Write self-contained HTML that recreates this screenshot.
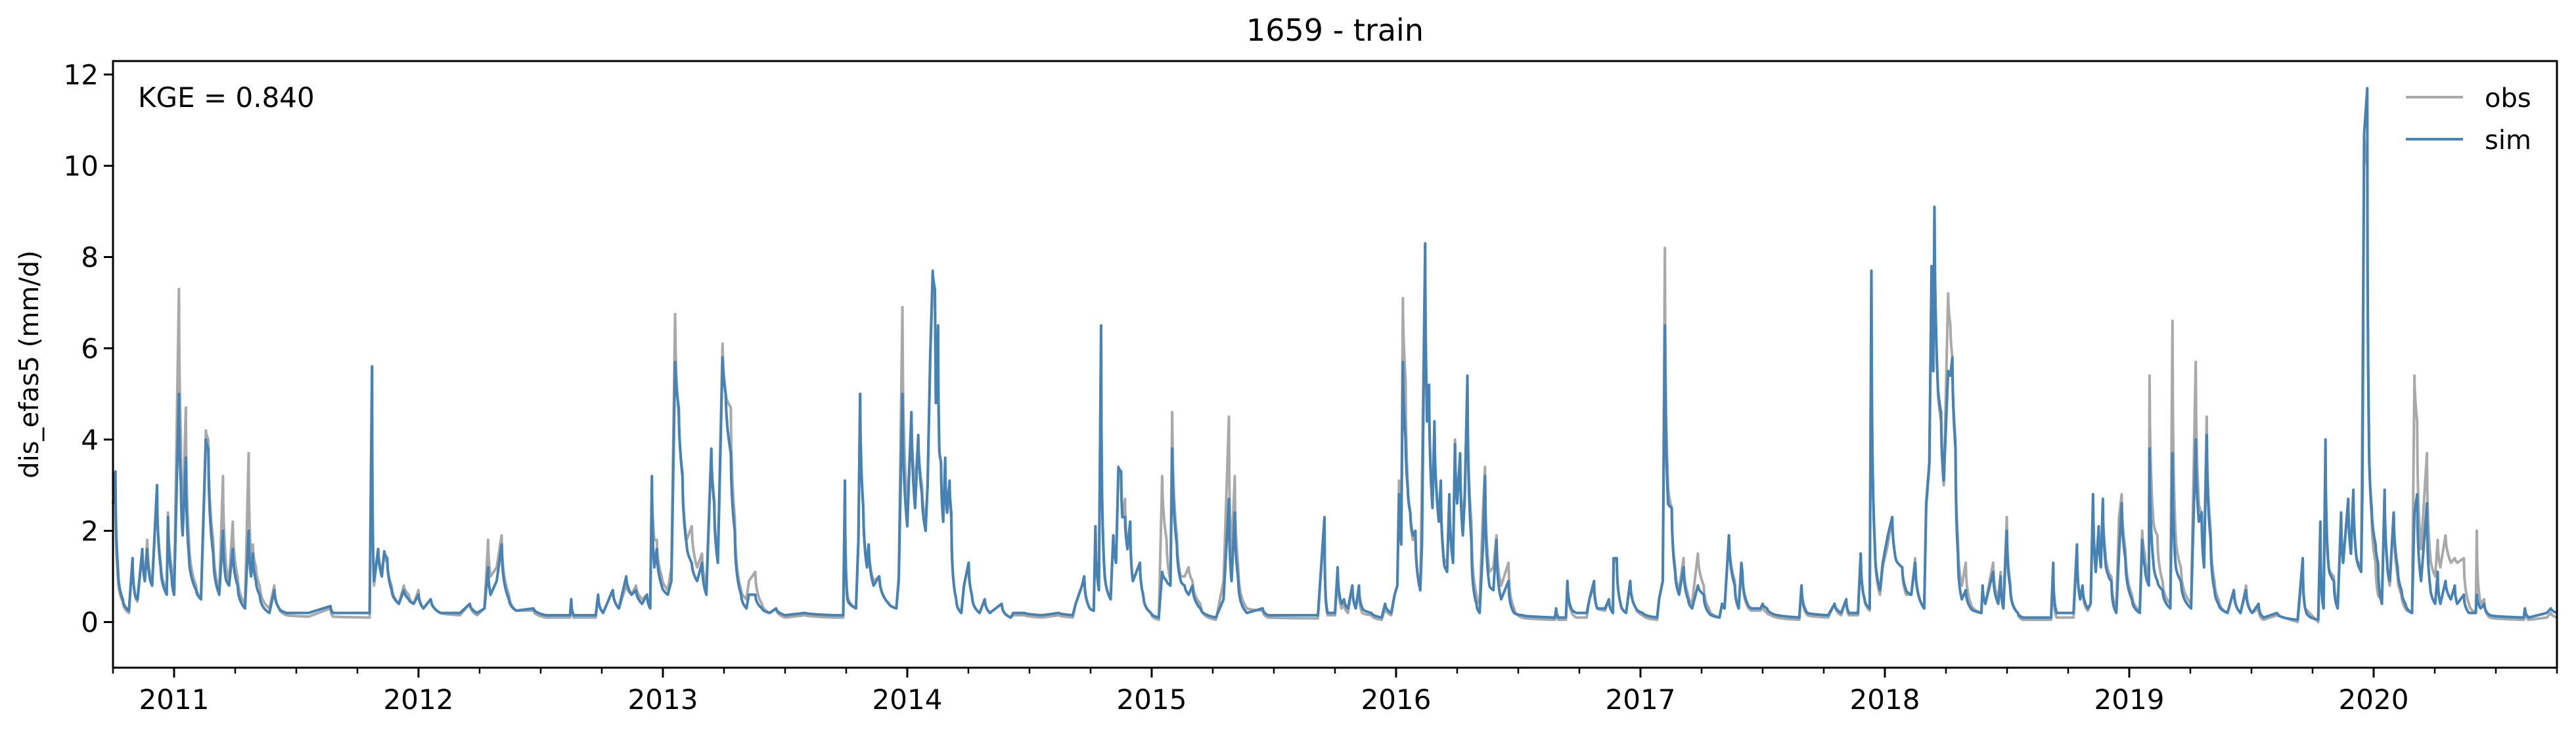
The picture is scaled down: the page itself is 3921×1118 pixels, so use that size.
<!DOCTYPE html>
<html><head><meta charset="utf-8"><style>
html,body{margin:0;padding:0;background:#fff;}
svg{display:block;font-family:"DejaVu Sans","Liberation Sans",sans-serif;}
</style></head><body>
<svg id="chart" width="3921" height="1118" viewBox="0 0 3921 1118" xmlns="http://www.w3.org/2000/svg">
<rect width="3921" height="1118" fill="#fff"/>
<text x="2032" y="62" font-size="46" text-anchor="middle">1659 - train</text>
<text transform="translate(58,555) rotate(-90)" font-size="40" text-anchor="middle">dis_efas5 (mm/d)</text>
<g id="xticks"></g>
<g id="yticks"></g>
<g id="series"></g>
<rect x="172" y="93" width="3720" height="924" fill="none" stroke="#000" stroke-width="3"/>
<text x="210" y="163" font-size="42">KGE = 0.840</text>
<g>
<line x1="3662" y1="148" x2="3749" y2="148" stroke="#a9a9a9" stroke-width="4"/>
<text x="3782" y="163" font-size="40">obs</text>
<line x1="3662" y1="212" x2="3749" y2="212" stroke="#4682b4" stroke-width="4"/>
<text x="3782" y="227" font-size="40">sim</text>
</g>
</svg>
<script>
const times = [2010.750,2010.760,2010.770,2010.790,2010.815,2010.830,2010.840,2010.850,2010.870,2010.880,2010.890,2010.900,2010.910,2010.930,2010.945,2010.970,2010.975,2010.990,2011.000,2011.020,2011.028,2011.035,2011.048,2011.060,2011.090,2011.110,2011.130,2011.140,2011.160,2011.185,2011.200,2011.210,2011.225,2011.240,2011.260,2011.290,2011.305,2011.315,2011.322,2011.335,2011.350,2011.390,2011.410,2011.430,2011.460,2011.550,2011.640,2011.650,2011.800,2011.810,2011.818,2011.835,2011.850,2011.860,2011.872,2011.890,2011.920,2011.940,2011.960,2011.980,2012.000,2012.020,2012.050,2012.090,2012.170,2012.210,2012.240,2012.270,2012.285,2012.295,2012.320,2012.340,2012.370,2012.400,2012.470,2012.520,2012.620,2012.625,2012.635,2012.725,2012.735,2012.755,2012.795,2012.820,2012.850,2012.872,2012.890,2012.915,2012.935,2012.948,2012.955,2012.965,2012.975,2012.995,2013.020,2013.035,2013.050,2013.065,2013.080,2013.097,2013.118,2013.140,2013.160,2013.178,2013.198,2013.210,2013.225,2013.244,2013.257,2013.278,2013.294,2013.320,2013.342,2013.352,2013.378,2013.405,2013.437,2013.463,2013.500,2013.580,2013.700,2013.738,2013.745,2013.755,2013.790,2013.800,2013.807,2013.820,2013.835,2013.842,2013.862,2013.885,2013.925,2013.955,2013.965,2013.980,2014.000,2014.017,2014.032,2014.045,2014.060,2014.075,2014.083,2014.094,2014.104,2014.113,2014.117,2014.126,2014.131,2014.138,2014.147,2014.155,2014.163,2014.173,2014.180,2014.200,2014.221,2014.232,2014.251,2014.264,2014.296,2014.317,2014.338,2014.386,2014.423,2014.434,2014.480,2014.550,2014.620,2014.677,2014.689,2014.715,2014.724,2014.747,2014.763,2014.770,2014.784,2014.793,2014.806,2014.832,2014.843,2014.854,2014.864,2014.875,2014.880,2014.891,2014.901,2014.912,2014.923,2014.952,2014.965,2014.997,2015.029,2015.043,2015.061,2015.077,2015.084,2015.103,2015.119,2015.135,2015.151,2015.167,2015.199,2015.263,2015.294,2015.316,2015.327,2015.340,2015.353,2015.390,2015.454,2015.475,2015.680,2015.707,2015.720,2015.750,2015.761,2015.777,2015.787,2015.803,2015.821,2015.835,2015.848,2015.862,2015.899,2015.941,2015.955,2015.980,2015.994,2016.005,2016.012,2016.021,2016.028,2016.039,2016.048,2016.058,2016.069,2016.079,2016.099,2016.106,2016.119,2016.127,2016.135,2016.149,2016.157,2016.175,2016.183,2016.196,2016.209,2016.218,2016.233,2016.241,2016.250,2016.262,2016.273,2016.281,2016.292,2016.308,2016.329,2016.342,2016.356,2016.364,2016.382,2016.398,2016.411,2016.430,2016.460,2016.483,2016.515,2016.650,2016.655,2016.665,2016.695,2016.701,2016.717,2016.738,2016.780,2016.791,2016.810,2016.823,2016.855,2016.871,2016.887,2016.890,2016.903,2016.919,2016.941,2016.958,2016.982,2017.009,2017.068,2017.076,2017.091,2017.100,2017.113,2017.128,2017.142,2017.158,2017.176,2017.195,2017.211,2017.235,2017.259,2017.280,2017.323,2017.334,2017.344,2017.362,2017.386,2017.402,2017.413,2017.417,2017.438,2017.454,2017.491,2017.500,2017.518,2017.534,2017.650,2017.659,2017.683,2017.768,2017.794,2017.821,2017.842,2017.853,2017.890,2017.901,2017.917,2017.938,2017.945,2017.959,2017.980,2017.991,2018.012,2018.030,2018.044,2018.071,2018.087,2018.108,2018.124,2018.161,2018.169,2018.182,2018.191,2018.198,2018.203,2018.216,2018.230,2018.241,2018.259,2018.268,2018.276,2018.289,2018.299,2018.315,2018.331,2018.352,2018.395,2018.400,2018.411,2018.443,2018.464,2018.474,2018.485,2018.499,2018.512,2018.544,2018.565,2018.680,2018.689,2018.703,2018.772,2018.786,2018.799,2018.809,2018.830,2018.842,2018.852,2018.863,2018.875,2018.884,2018.892,2018.903,2018.916,2018.927,2018.947,2018.958,2018.969,2018.984,2019.011,2019.043,2019.053,2019.064,2019.080,2019.083,2019.099,2019.115,2019.136,2019.168,2019.177,2019.189,2019.211,2019.253,2019.272,2019.285,2019.296,2019.306,2019.317,2019.333,2019.349,2019.365,2019.402,2019.428,2019.455,2019.478,2019.503,2019.529,2019.550,2019.604,2019.689,2019.710,2019.720,2019.773,2019.782,2019.795,2019.803,2019.816,2019.837,2019.853,2019.867,2019.875,2019.896,2019.907,2019.917,2019.928,2019.949,2019.954,2019.961,2019.974,2019.981,2019.992,2020.008,2020.018,2020.034,2020.045,2020.055,2020.066,2020.082,2020.098,2020.114,2020.130,2020.157,2020.167,2020.178,2020.194,2020.218,2020.231,2020.252,2020.262,2020.273,2020.294,2020.316,2020.332,2020.342,2020.369,2020.390,2020.418,2020.422,2020.438,2020.452,2020.475,2020.614,2020.619,2020.635,2020.709,2020.725,2020.750];
const simValues = [2.6,3.3,1.2,0.5,0.25,1.4,0.6,0.5,1.6,0.9,1.6,1.0,0.8,3.0,1.2,0.6,2.3,1.0,0.6,5.0,3.0,1.9,3.6,1.5,0.7,0.5,4.0,3.8,1.5,0.6,2.0,1.0,0.8,1.6,0.8,0.3,2.0,1.0,1.5,0.9,0.6,0.2,0.7,0.3,0.2,0.2,0.35,0.2,0.2,5.6,0.9,1.6,1.0,1.55,1.4,0.7,0.4,0.7,0.5,0.4,0.6,0.3,0.5,0.2,0.2,0.4,0.2,0.3,1.2,0.6,0.9,1.7,0.5,0.25,0.3,0.15,0.15,0.5,0.15,0.15,0.6,0.2,0.7,0.3,1.0,0.6,0.7,0.4,0.6,0.3,3.2,1.2,1.6,0.8,0.6,0.9,5.7,4.7,3.2,1.7,1.3,0.9,1.3,0.6,3.8,2.6,1.3,5.8,5.0,3.7,2.0,0.6,0.3,0.6,0.6,0.3,0.2,0.3,0.15,0.2,0.15,0.15,3.1,0.5,0.3,1.8,5.0,2.5,1.2,1.7,0.8,1.0,0.4,0.3,0.9,5.0,2.1,4.6,2.5,4.1,2.8,2.0,3.0,5.9,7.7,7.3,4.8,6.5,3.8,3.5,2.2,3.6,2.4,3.1,2.4,0.5,0.2,0.8,1.3,0.6,0.2,0.5,0.2,0.4,0.1,0.2,0.2,0.15,0.2,0.15,0.4,0.8,1.0,0.3,0.25,2.1,0.7,6.5,1.2,0.5,1.9,1.3,3.4,3.3,2.3,2.3,1.6,2.2,0.9,1.3,0.6,0.2,0.1,1.1,0.9,0.8,3.8,1.7,0.9,0.8,0.6,0.8,0.3,0.1,0.5,2.7,0.9,2.4,1.0,0.2,0.3,0.15,0.15,2.3,0.2,0.2,1.2,0.4,0.5,0.3,0.8,0.3,0.8,0.3,0.2,0.1,0.4,0.2,0.6,0.8,2.8,1.7,5.7,4.0,2.9,2.4,1.9,2.0,0.7,1.7,8.3,4.4,5.2,2.5,4.4,2.2,3.1,1.3,1.1,2.8,1.3,3.9,2.6,3.7,1.9,2.7,5.4,1.8,0.4,0.2,1.7,3.2,0.8,0.7,1.8,0.5,0.9,0.2,0.15,0.1,0.3,0.1,0.1,0.9,0.3,0.2,0.2,0.5,0.9,0.3,0.3,0.5,0.2,1.4,1.4,0.4,0.2,0.9,0.3,0.2,0.1,0.5,0.9,6.5,2.6,2.5,1.1,0.6,1.2,0.5,0.3,0.8,0.6,0.2,0.1,0.4,0.3,1.9,0.8,0.3,1.3,1.1,0.4,0.3,0.3,0.4,0.3,0.2,0.1,0.8,0.2,0.15,0.4,0.2,0.5,0.2,0.2,1.5,0.5,0.3,7.7,1.7,0.7,1.3,1.9,2.3,1.4,1.2,0.7,0.6,1.3,0.3,2.6,3.5,7.8,5.5,9.1,5.3,4.6,3.1,5.5,5.4,5.8,3.8,1.5,0.5,0.7,0.3,0.2,0.8,0.4,1.1,0.4,1.0,0.3,2.0,0.8,0.2,0.1,0.1,1.3,0.2,0.2,1.7,0.5,0.8,0.3,0.4,2.8,1.1,2.1,1.2,2.7,1.3,1.0,0.9,0.2,1.5,2.6,1.4,0.5,0.2,1.8,1.2,0.8,3.8,1.3,0.9,0.7,0.3,3.7,1.3,0.9,0.3,4.0,2.2,2.4,1.2,4.1,1.8,0.7,0.4,0.2,0.7,0.2,0.7,0.2,0.4,0.1,0.2,0.05,1.4,0.3,0.05,2.2,0.3,4.0,1.2,0.9,0.3,2.4,1.3,2.7,1.5,2.9,1.5,1.1,2.9,10.7,11.7,3.9,2.5,1.7,1.3,0.4,2.9,1.3,0.9,2.4,1.2,0.7,0.4,0.2,2.4,2.8,0.9,2.6,0.8,0.4,1.1,0.4,0.9,0.5,0.8,0.4,0.6,0.2,0.2,0.6,0.3,0.4,0.15,0.1,0.3,0.1,0.2,0.3,0.2];
const obsValues = [2.6,2.8,1.0,0.45,0.2,1.4,0.6,0.45,1.5,1.0,1.8,1.1,0.8,2.9,1.3,0.7,2.4,1.2,0.6,7.3,4.0,2.2,4.7,1.9,0.8,0.5,4.2,4.0,1.8,0.7,3.2,1.5,0.9,2.2,1.0,0.4,3.7,1.4,1.7,1.2,0.8,0.3,0.8,0.3,0.15,0.12,0.3,0.12,0.1,5.6,0.8,1.6,1.1,1.5,1.3,0.8,0.4,0.8,0.6,0.4,0.7,0.3,0.5,0.2,0.15,0.4,0.15,0.3,1.8,1.0,1.2,1.9,0.6,0.25,0.25,0.1,0.1,0.45,0.1,0.1,0.55,0.2,0.7,0.3,0.8,0.6,0.8,0.5,0.6,0.4,3.1,1.8,1.8,1.0,0.7,1.2,6.75,4.5,3.3,1.8,2.1,1.2,1.5,0.8,3.8,2.7,1.4,6.1,5.0,4.7,2.3,0.7,0.5,0.9,1.1,0.4,0.2,0.3,0.1,0.15,0.1,0.1,3.1,0.6,0.3,1.8,5.0,2.5,1.3,1.7,0.9,1.0,0.4,0.3,1.0,6.9,2.5,4.5,3.0,4.0,3.0,2.2,3.0,5.8,7.5,7.2,4.8,6.4,3.8,3.5,2.2,3.5,2.4,3.0,2.3,0.5,0.2,0.8,1.3,0.6,0.2,0.5,0.2,0.4,0.1,0.15,0.15,0.1,0.15,0.1,0.4,0.8,1.0,0.3,0.25,2.1,0.7,6.5,1.2,0.5,1.9,1.3,3.3,3.3,2.3,2.7,1.6,2.2,0.9,1.3,0.6,0.2,0.05,3.2,1.8,0.9,4.6,1.9,1.0,1.0,1.2,0.9,0.4,0.05,0.9,4.5,1.5,3.2,1.3,0.3,0.25,0.1,0.08,2.2,0.15,0.15,1.1,0.3,0.4,0.2,0.8,0.3,0.7,0.2,0.15,0.05,0.3,0.15,0.6,0.8,3.1,1.8,7.1,5.3,3.0,2.4,1.8,2.0,0.7,3.1,8.3,4.4,5.2,2.6,4.3,2.3,3.0,1.4,1.3,2.7,1.4,4.0,2.7,3.6,2.2,2.8,5.2,2.2,0.6,0.4,2.5,3.4,1.1,1.2,1.9,0.8,1.3,0.3,0.1,0.05,0.25,0.05,0.05,0.8,0.25,0.1,0.1,0.5,0.8,0.3,0.25,0.5,0.2,1.3,1.4,0.4,0.2,0.9,0.3,0.15,0.05,0.5,0.9,8.2,3.0,2.5,1.2,0.7,1.4,0.6,0.4,1.5,0.8,0.3,0.1,0.4,0.3,1.9,0.9,0.3,1.2,1.0,0.35,0.25,0.25,0.35,0.2,0.15,0.05,0.8,0.15,0.1,0.4,0.15,0.5,0.15,0.15,1.5,0.5,0.25,7.7,1.7,0.6,1.2,1.7,2.3,1.4,1.2,0.6,0.6,1.4,0.3,2.5,3.4,7.8,5.5,9.1,5.2,4.4,3.0,7.2,6.5,5.8,4.0,1.8,0.8,1.3,0.4,0.2,0.8,0.4,1.3,0.5,1.1,0.35,2.3,0.9,0.2,0.05,0.05,1.2,0.1,0.1,1.6,0.5,0.7,0.25,0.4,2.8,1.2,2.0,1.3,2.6,1.5,1.1,1.0,0.3,2.3,2.8,1.6,0.6,0.25,2.0,1.5,1.0,5.4,2.2,1.9,0.9,0.4,6.6,2.0,1.2,0.4,5.7,2.6,2.4,1.4,4.5,2.0,0.9,0.5,0.2,0.7,0.2,0.8,0.2,0.3,0.05,0.15,0.0,1.2,0.3,0.0,2.0,0.3,3.0,1.2,1.0,0.4,2.2,1.3,2.6,1.5,2.8,1.5,1.2,4.9,10.7,10.0,4.2,2.3,1.3,0.6,0.5,2.8,1.4,0.8,2.4,1.0,0.6,0.3,0.2,5.4,4.4,1.6,3.7,1.5,1.0,1.8,1.2,1.9,1.3,1.4,1.3,1.4,0.4,0.2,2.0,0.4,0.5,0.1,0.05,0.25,0.05,0.1,0.2,0.1];
const yTickValues = [0,2,4,6,8,10,12];
const yTickLabels = ["0","2","4","6","8","10","12"];
const xYearTicks = [2011,2012,2013,2014,2015,2016,2017,2018,2019,2020];
const xYearLabels = ["2011","2012","2013","2014","2015","2016","2017","2018","2019","2020"];

const NS = "http://www.w3.org/2000/svg";
const L = 172, R = 3892, T = 93, B = 1017;
const tMin = 2010.75, tMax = 2020.75, vMin = -1.0, vMax = 12.295;
function xs(t){ return L + (t - tMin) / (tMax - tMin) * (R - L); }
function ys(v){ return B - (v - vMin) / (vMax - vMin) * (B - T); }
function mk(tag, attrs){ const e = document.createElementNS(NS, tag); for (const k in attrs) e.setAttribute(k, attrs[k]); return e; }

const yg = document.getElementById('yticks');
yTickValues.forEach((v, i) => {
  const tk = mk('line', {x1: L - 14, x2: L, y1: ys(v), y2: ys(v), stroke: '#000', 'stroke-width': 3});
  
  
  yg.appendChild(tk);
  const tx = mk('text', {x: L - 22, y: ys(v) + 15, 'font-size': 42, 'text-anchor': 'end'});
  tx.textContent = yTickLabels[i];
  
  
  yg.appendChild(tx);
});

const xg = document.getElementById('xticks');
for (let y = 2010; y <= 2020; y++) {
  for (let q = 1; q < 4; q++) {
    const t = y + q * 0.25;
    if (t < tMin - 1e-6 || t > tMax + 1e-6) continue;
    const mt = mk('line', {x1: xs(t), x2: xs(t), y1: B, y2: B + 9, stroke: '#000', 'stroke-width': 2.5});
    
    
    xg.appendChild(mt);
  }
}
xYearTicks.forEach((t, i) => {
  const tk = mk('line', {x1: xs(t), x2: xs(t), y1: B, y2: B + 15, stroke: '#000', 'stroke-width': 3});
  
  
  xg.appendChild(tk);
  const tx = mk('text', {x: xs(t), y: 1080, 'font-size': 42, 'text-anchor': 'middle'});
  tx.textContent = xYearLabels[i];
  
  
  xg.appendChild(tx);
});

const sg = document.getElementById('series');
// recession segments drawn with geometric (exponential-like) decay between read points
function pathFor(vals){
  let d = 'M' + xs(times[0]).toFixed(1) + ' ' + ys(vals[0]).toFixed(1);
  for (let i = 1; i < times.length; i++) {
    const v0 = vals[i-1], v1 = vals[i], t0 = times[i-1], t1 = times[i];
    if (v1 < v0 && v1 > 0 && (t1 - t0) > 0.004) {
      const n = 10;
      for (let k = 1; k <= n; k++) {
        const f = k / n;
        const v = v0 * Math.pow(v1 / v0, Math.pow(f, 0.6));
        d += 'L' + xs(t0 + (t1 - t0) * f).toFixed(1) + ' ' + ys(v).toFixed(1);
      }
    } else {
      d += 'L' + xs(t1).toFixed(1) + ' ' + ys(v1).toFixed(1);
    }
  }
  return d;
}
const obsPath = mk('path', {d: pathFor(obsValues), fill: 'none', stroke: '#a9a9a9', 'stroke-width': 4, 'stroke-linejoin': 'round'});


sg.appendChild(obsPath);
const simPath = mk('path', {d: pathFor(simValues), fill: 'none', stroke: '#4682b4', 'stroke-width': 4, 'stroke-linejoin': 'round'});


sg.appendChild(simPath);
</script>
</body></html>
